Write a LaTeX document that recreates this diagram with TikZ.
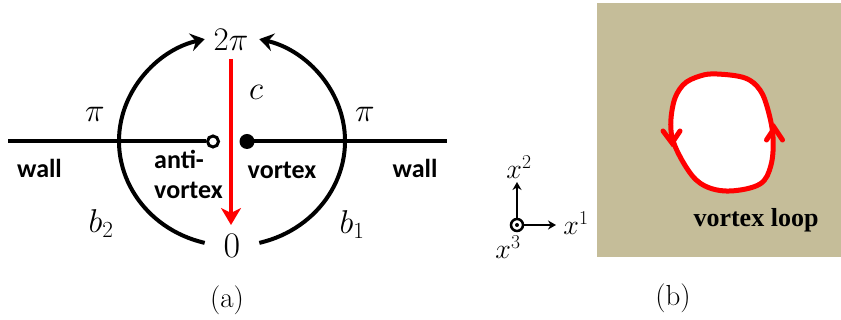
\RequirePackage{fix-cm}
\documentclass[tikz,border=0pt]{standalone}
\usepackage{fontspec}
\usetikzlibrary{arrows.meta,calc}
\newfontfamily\lblfont{Carlito}
\newfontfamily\serifbold{Liberation Serif}
\definecolor{tan}{RGB}{197,189,153}
\definecolor{loopred}{RGB}{255,0,0}
\tikzset{
  thickblk/.style={line width=4pt,black},
  mathlbl/.style={inner sep=0pt,font=\fontsize{33}{36}\selectfont},
  wordlbl/.style={inner sep=0pt,font=\lblfont\bfseries\fontsize{26}{28}\selectfont},
  caplbl/.style={inner sep=0pt,font=\fontsize{29}{32}\selectfont},
  axlbl/.style={inner sep=0pt,font=\fontsize{28}{30}\selectfont},
}
\begin{document}
\begin{tikzpicture}[x=1pt,y=1pt]
\useasboundingbox (0,0) rectangle (841,320);
% ---------- panel (a) ----------
\coordinate (O) at (232,179);
\coordinate (wl) at (8,178.5);
\coordinate (wr) at (447,178.5);
\node[circle,draw,line width=3pt,fill=white,minimum size=11pt,inner sep=0pt] (av) at (213,178.5) {};
\node[circle,fill=black,minimum size=15pt,inner sep=0pt] (vx) at (247,178.5) {};
\draw[thickblk] (wl) -- (av.west);
\draw[thickblk] (vx.center) -- (wr);
% arcs
\draw[thickblk,-{Stealth[length=14pt,width=18pt,inset=5pt]}]
  (O) ++(256:113 and 105) coordinate (bl)
  arc[start angle=256,end angle=104,x radius=113,y radius=105] coordinate (tl);
\draw[thickblk,-{Stealth[length=14pt,width=18pt,inset=5pt]}]
  (O) ++(-76:113 and 105) coordinate (br)
  arc[start angle=-76,end angle=76,x radius=113,y radius=105] coordinate (tr);
% labels
\node[mathlbl] (twopi) at (231,280) {$2\pi$};
\node[inner sep=0pt,font=\fontsize{36}{40}\selectfont] (zero) at (232,74) {$0$};
\node[mathlbl] (c) at (256,228) {$c$};
\node[mathlbl] (pil) at (95,206) {$\pi$};
\node[mathlbl] (pir) at (365,206) {$\pi$};
\node[mathlbl] (b2) at (101,96) {$b_2$};
\node[mathlbl] (b1) at (352,95) {$b_1$};
\node[wordlbl] (walll) at (39.5,152) {wall};
\node[wordlbl] (wallr) at (415,152) {wall};
\node[wordlbl,anchor=west] (anti) at (154,161) {anti-};
\node[wordlbl,anchor=west] (antiv) at (154,130) {vortex};
\node[wordlbl] (vort) at (282,150) {vortex};
\coordinate (cs) at (231,261);
\coordinate (ce) at (231,95);
\draw[line width=4.5pt,loopred,-{Stealth[length=17pt,width=20pt,inset=5pt]}] (cs) -- (ce);
\node[caplbl] (capa) at (227,20) {(a)};
% ---------- panel (b) ----------
\fill[tan] (597,63) rectangle (841,317);
\draw[line width=5pt,loopred,fill=white] plot[smooth cycle,tension=0.6] coordinates {
  (717,246) (745,242) (760,230) (768,210) (773,183) (771,155) (760,136)
  (730,129) (705,134) (688,150) (672,183) (673,215) (683,235) (700,244)};
% arrowheads on loop
\coordinate (la) at (672,177);
\coordinate (ra) at (774.5,192);
\draw[line width=5pt,loopred,line cap=round] ($(la)+(-9,12)$) -- (la) -- ($(la)+(8,12)$);
\draw[line width=5pt,loopred,line cap=round] ($(ra)+(-8,-12)$) -- (ra) -- ($(ra)+(8,-12)$);
\node[inner sep=0pt,font=\serifbold\bfseries\fontsize{26}{29}\selectfont] (vl) at (756,100) {vortex loop};
% axes
\node[circle,draw,line width=2.5pt,minimum size=12pt,inner sep=0pt] (ax) at (517,95) {};
\fill (ax.center) circle (2pt);
\coordinate (ax2) at (517,138);
\coordinate (ax1) at (556,95);
\draw[line width=2.5pt,-{Stealth[length=8pt,width=9pt]}] (ax.north) -- (ax2);
\draw[line width=2.5pt,-{Stealth[length=8pt,width=9pt]}] (ax.east) -- (ax1);
\node[axlbl] (x2) at (519,153) {$x^2$};
\node[axlbl] (x1) at (576,97) {$x^1$};
\node[axlbl] (x3) at (508,73) {$x^3$};
\node[caplbl] (capb) at (673,22) {(b)};
\end{tikzpicture}
\end{document}
